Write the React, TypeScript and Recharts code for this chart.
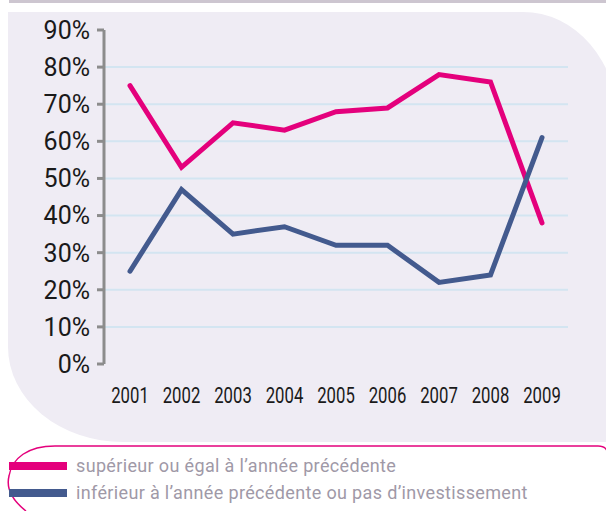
import { LineChart, Line, XAxis, YAxis, ReferenceLine } from "recharts";

const years = ["2001", "2002", "2003", "2004", "2005", "2006", "2007", "2008", "2009"];
const superieur = [75, 53, 65, 63, 68, 69, 78, 76, 38];
const inferieur = [25, 47, 35, 37, 32, 32, 22, 24, 61];
const yTicks = [0, 10, 20, 30, 40, 50, 60, 70, 80, 90];
const gridValues = [10, 20, 30, 40, 50, 60, 70, 80];
const edgeTicks = [0, 1, 2, 3, 4, 5, 6, 7, 8, 9];

const PINK = "#e4007c";
const BLUE = "#435a8e";
const AXIS = "#8c8c8c";

const data = years.map((year, i) => ({
  year,
  superieur: superieur[i],
  inferieur: inferieur[i],
}));

function YearTick({ x, y, payload }: any) {
  return (
    <g transform={`translate(${x},${y + 31})`}>
      <text
        transform="scale(0.76,1)"
        textAnchor="middle"
        fill="#1a1a1a"
        fontSize={22}
        fontFamily="Roboto"
      >
        {payload.value}
      </text>
    </g>
  );
}

const legendText = {
  position: "absolute" as const,
  left: 76,
  fontSize: 18,
  letterSpacing: 0.35,
  color: "#9f99a7",
  lineHeight: "22px",
  whiteSpace: "nowrap" as const,
};

export default function App() {
  return (
    <div
      style={{
        position: "absolute",
        left: 0,
        top: 0,
        width: 606,
        height: 511,
        overflow: "hidden",
        background: "#fff",
        fontFamily: "Roboto",
      }}
    >
      <div style={{ position: "absolute", left: 9, top: 0, width: 597, height: 3, background: "#cdc6d0" }} />
      <div
        style={{
          position: "absolute",
          left: 8,
          top: 12,
          width: 610,
          height: 430,
          background: "#efecf4",
          borderRadius: "0 95px 0 115px / 0 110px 0 95px",
        }}
      />
      <div style={{ position: "absolute", left: 0, top: 0 }}>
        <LineChart width={606} height={440} data={data} margin={{ top: 30, right: 38, left: 0, bottom: 0 }}>
          <XAxis
            xAxisId="edge"
            type="number"
            domain={[0, 9]}
            ticks={edgeTicks}
            allowDataOverflow
            height={0}
            tick={false}
            tickSize={7}
            axisLine={{ stroke: AXIS, strokeWidth: 3 }}
            tickLine={{ stroke: AXIS, strokeWidth: 3 }}
          />
          <XAxis
            dataKey="year"
            height={76}
            padding={{ left: 26, right: 26 }}
            axisLine={false}
            tickLine={false}
            interval={0}
            tick={<YearTick />}
          />
          <YAxis
            width={104}
            domain={[0, 90]}
            ticks={yTicks}
            interval={0}
            tickFormatter={(v) => `${v}%`}
            tickSize={7}
            tickMargin={7}
            axisLine={{ stroke: AXIS, strokeWidth: 3 }}
            tickLine={{ stroke: AXIS, strokeWidth: 3 }}
            tick={{ fill: "#1a1a1a", fontSize: 25, fontFamily: "Roboto" }}
          />
          {gridValues.map((v) => (
            <ReferenceLine key={v} y={v} stroke="#d3e5f1" strokeWidth={2} />
          ))}
          <Line
            dataKey="superieur"
            stroke={PINK}
            strokeWidth={5}
            dot={false}
            strokeLinecap="round"
            isAnimationActive={false}
          />
          <Line
            dataKey="inferieur"
            stroke={BLUE}
            strokeWidth={5}
            dot={false}
            strokeLinecap="round"
            isAnimationActive={false}
          />
        </LineChart>
      </div>
      <svg style={{ position: "absolute", left: 0, top: 0 }} width={606} height={511}>
        <path
          d="M 26 511 C 12 500, 6 488, 9 476 C 12 458, 28 446, 55 446 L 598 446 C 603 446, 606 448, 607 451"
          fill="none"
          stroke={PINK}
          strokeWidth={1.5}
        />
      </svg>
      <div style={{ position: "absolute", left: 9, top: 462, width: 58, height: 8, background: PINK }} />
      <div style={{ position: "absolute", left: 9, top: 489, width: 58, height: 8, background: BLUE }} />
      <div style={{ ...legendText, top: 455 }}>supérieur ou égal à l’année précédente</div>
      <div style={{ ...legendText, top: 482 }}>inférieur à l’année précédente ou pas d’investissement</div>
    </div>
  );
}
